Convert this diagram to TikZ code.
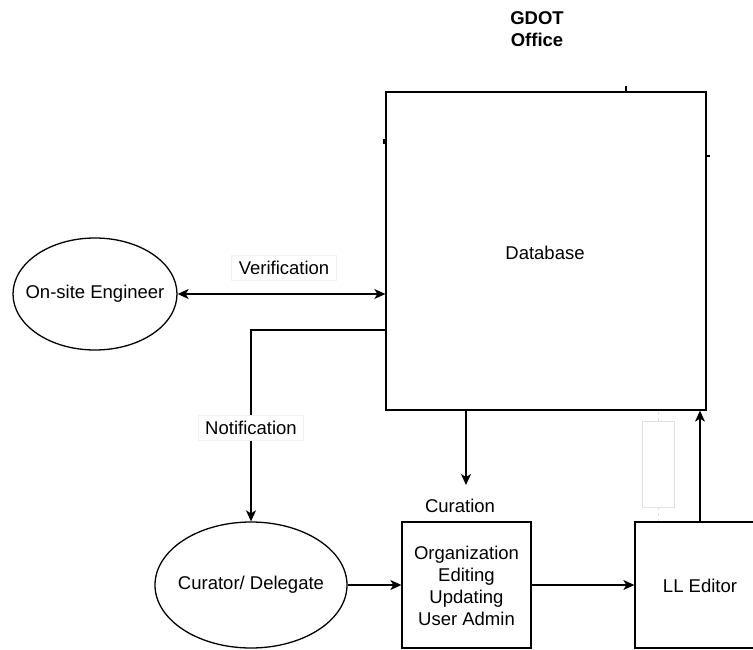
\documentclass[tikz,border=0pt]{standalone}
\usepackage{fontspec}
\setmainfont{Liberation Sans}
\usetikzlibrary{shapes.geometric,arrows.meta}
\tikzset{
  txt/.style={font=\fontsize{18.5}{22}\selectfont, inner sep=0pt, align=center},
  oval/.style={ellipse, draw, line width=1.3pt, inner sep=0pt},
  boxnode/.style={rectangle, draw, line width=1.3pt, inner sep=0pt},
  conn/.style={line width=1.3pt, -{Stealth[length=11pt,width=10pt,inset=3pt]}},
  biconn/.style={line width=1.3pt, {Stealth[length=11pt,width=10pt,inset=3pt]}-{Stealth[length=11pt,width=10pt,inset=3pt]}},
  tag/.style={txt, fill=white, draw=black!6, line width=0.6pt, inner xsep=7pt, inner ysep=6pt},
  ghost/.style={draw=black!12, line width=0.6pt},
  tick/.style={line width=1.3pt}
}
\begin{document}
\begin{tikzpicture}[x=1pt,y=-1pt]
\useasboundingbox (0,0) rectangle (753,650);
\clip (0,0) rectangle (753,650);

% office title and central database
\node[txt, font=\fontsize{18.5}{22}\selectfont\bfseries] (gdot) at (537,29) {GDOT\\Office};
\node[boxnode, minimum width=320pt, minimum height=318pt] (db) at (546,251) {};
\node[txt] (dbT) at (545,253) {Database};

% small stubs on the database outline
\coordinate (tkA) at (626,86);
\coordinate (tkB) at (384,139);
\coordinate (tkC) at (710,156);
\draw[tick] (tkA) -- (tkA |- db.north);
\draw[line width=2.2pt] (tkB) -- ++(0,5);
\draw[tick] (tkC) -- (tkC -| db.east);

% actors
\node[oval, minimum width=164pt, minimum height=112pt] (eng) at (95,294) {};
\node[txt] (engT) at (eng) {On-site Engineer};
\node[oval, minimum width=192pt, minimum height=126pt] (cur) at (251,585) {};
\node[txt] (curT) at (cur) {Curator/ Delegate};

% processing boxes
\node[boxnode, minimum width=129pt, minimum height=126pt] (cura) at (466.5,585) {};
\node[txt] (curaT) at (466.5,586) {Organization\\Editing\\Updating\\User Admin};
\node[txt] (curaL) at (460,506) {Curation};
\node[boxnode, minimum width=130pt, minimum height=126pt] (ll) at (700,585) {};
\node[txt] (llT) at (700,586) {LL Editor};

% connectors
\draw[biconn] (eng.east) -- (eng.east -| db.west);
\node[tag] (ver) at (284,268) {Verification};

\coordinate (bend) at (251,330);
\draw[conn] (db.west |- bend) -- (bend) -- (cur.north);
\node[tag] (note) at (251,428) {Notification};

\coordinate (dbOut) at (466,410);
\coordinate (curaIn) at (466,485);
\draw[conn] (dbOut) -- (curaIn);

\draw[conn] (cur.east) -- (cur.east -| cura.west);
\draw[conn] (cura.east) -- (cura.east -| ll.west);
\draw[conn] (ll.north) -- (ll.north |- db.south);

% faint empty label between editor and database
\node[ghost, minimum width=32pt, minimum height=86pt, inner sep=0pt] (gh) at (658,464) {};
\draw[ghost, dashed] (gh.north) -- (gh.north |- db.south);
\draw[ghost, dashed] (gh.south) -- (gh.south |- ll.north);
\end{tikzpicture}
\end{document}
